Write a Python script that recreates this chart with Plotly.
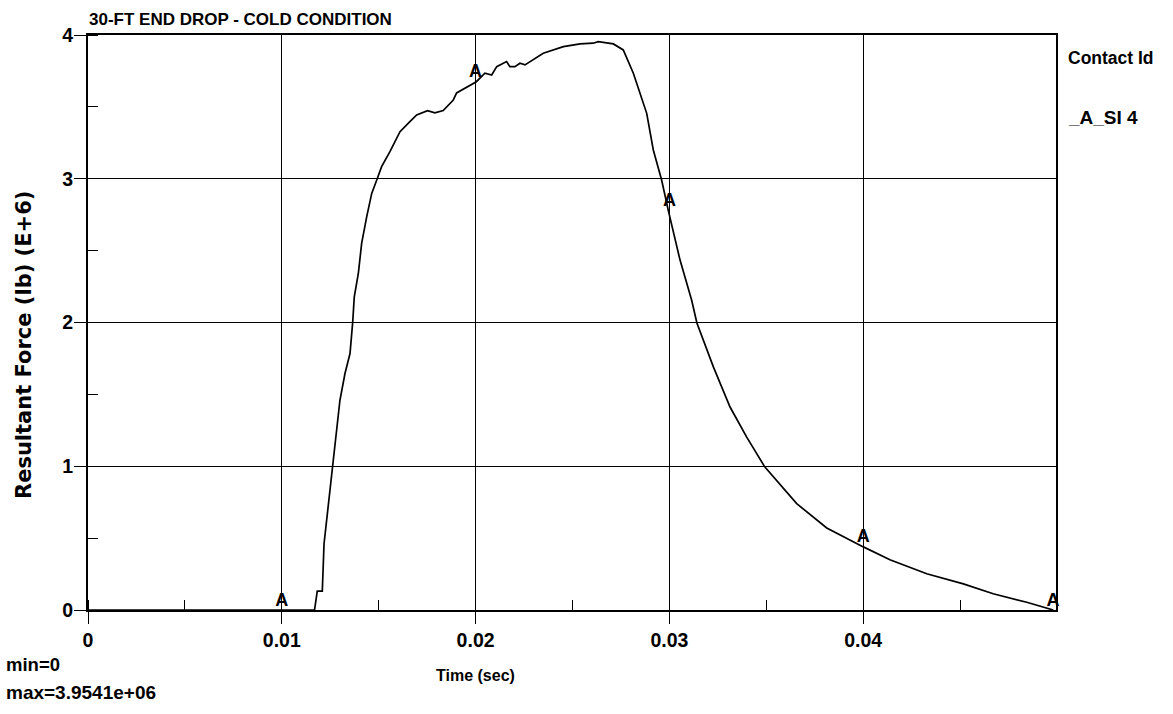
import plotly.graph_objects as go

# Data (time in sec, resultant force in lb x 1e6)
time_s = [0.0, 0.01169, 0.01183, 0.01209, 0.01218, 0.01261, 0.01300, 0.01326, 0.01352,
          0.01366, 0.01374, 0.01395, 0.01412, 0.01438, 0.01464, 0.01490, 0.01515, 0.01558,
          0.01610, 0.01661, 0.01696, 0.01752, 0.01790, 0.01833, 0.01885, 0.01902, 0.02004,
          0.02048, 0.02083, 0.02109, 0.02160, 0.02177, 0.02203, 0.02229, 0.02255, 0.02349,
          0.02453, 0.02539, 0.02607, 0.02633, 0.02711, 0.02762, 0.02814, 0.02883, 0.02917,
          0.02960, 0.02994, 0.03055, 0.03115, 0.03142, 0.03227, 0.03313, 0.03399, 0.03493,
          0.03657, 0.03812, 0.04001, 0.04138, 0.04328, 0.04517, 0.04671, 0.04844, 0.04981]
force_e6 = [0.0, 0.0, 0.131, 0.131, 0.461, 0.994, 1.459, 1.645, 1.784,
            2.004, 2.178, 2.341, 2.550, 2.735, 2.898, 2.991, 3.084, 3.188,
            3.327, 3.397, 3.444, 3.474, 3.458, 3.475, 3.548, 3.597, 3.675,
            3.734, 3.722, 3.780, 3.815, 3.780, 3.780, 3.804, 3.792, 3.873,
            3.919, 3.938, 3.943, 3.954, 3.938, 3.896, 3.734, 3.455, 3.200,
            2.991, 2.782, 2.434, 2.155, 1.997, 1.691, 1.412, 1.203, 0.994,
            0.740, 0.571, 0.439, 0.350, 0.252, 0.182, 0.113, 0.054, 0.0]

marker_t = [0.01, 0.02, 0.03, 0.04, 0.0498]
marker_f = [0.0, 3.68, 2.78, 0.44, 0.0]
marker_text = ["A", "A", "A", "A", "A"]

x_ticks = [0, 0.01, 0.02, 0.03, 0.04]
x_tick_labels = ["0", "0.01", "0.02", "0.03", "0.04"]
y_ticks = [0, 1, 2, 3, 4]
y_tick_labels = ["0", "1", "2", "3", "4"]

FONT = "Liberation Sans, Arial, sans-serif"
WIDE = "DejaVu Sans, Liberation Sans, Arial, sans-serif"


def bold(size, family=FONT):
    return dict(family=family, size=size, color="black", weight="bold")


fig = go.Figure()
fig.add_trace(go.Scatter(x=time_s, y=force_e6, mode="lines",
                         line=dict(color="black", width=1.7), showlegend=False,
                         hoverinfo="skip"))
fig.add_trace(go.Scatter(x=marker_t, y=marker_f, mode="text", text=marker_text,
                         textposition="top center", textfont=bold(18),
                         showlegend=False, cliponaxis=False, hoverinfo="skip"))

axis_common = dict(showline=True, linecolor="black", linewidth=2, mirror=True,
                   showgrid=True, gridcolor="black", gridwidth=1.4,
                   ticks="outside", ticklen=12, tickwidth=1.2, tickcolor="black",
                   zeroline=False, tickfont=bold(19.5))

fig.update_xaxes(range=[0, 0.04995], tickmode="array", tickvals=x_ticks,
                 ticktext=x_tick_labels,
                 minor=dict(dtick=0.005, tick0=0, ticks="inside", ticklen=10,
                            tickwidth=1.2, tickcolor="black", showgrid=False),
                 **axis_common)
fig.update_yaxes(range=[0, 4], tickmode="array", tickvals=y_ticks,
                 ticktext=y_tick_labels, ticklabelstandoff=-3,
                 minor=dict(dtick=0.5, tick0=0, ticks="inside", ticklen=10,
                            tickwidth=1.2, tickcolor="black", showgrid=False),
                 **axis_common)

L, R, T, B = 88, 117, 35, 104
W, H = 1173, 714
pw, ph = W - L - R, H - T - B


def px(xp):
    return (xp - L) / pw


def py(yp):
    return (H - B - yp) / ph


annotations = [
    dict(text="30-FT END DROP - COLD CONDITION", x=px(87), y=py(19), xanchor="left",
         yanchor="middle", font=bold(17)),
    dict(text="Contact Id", x=px(1066), y=py(58), xanchor="left", yanchor="middle",
         font=bold(17.5)),
    dict(text="_A_SI 4", x=px(1066), y=py(117), xanchor="left", yanchor="middle",
         font=bold(19)),
    dict(text="Time (sec)", x=px(475), y=py(675), xanchor="center", yanchor="middle",
         font=bold(16)),
    dict(text="min=0", x=px(4), y=py(665), xanchor="left", yanchor="middle",
         font=bold(18.5)),
    dict(text="max=3.9541e+06", x=px(4), y=py(692), xanchor="left", yanchor="middle",
         font=bold(19)),
    dict(text="Resultant Force (lb) (E+6)", x=px(24), y=py(345), xanchor="center",
         yanchor="middle", textangle=-90, font=bold(21, WIDE)),
]
for a in annotations:
    a.update(xref="paper", yref="paper", showarrow=False)

fig.update_layout(width=W, height=H, margin=dict(l=L, r=R, t=T, b=B, autoexpand=False),
                  paper_bgcolor="white", plot_bgcolor="white",
                  annotations=annotations, showlegend=False)

fig.write_html("out.html")
